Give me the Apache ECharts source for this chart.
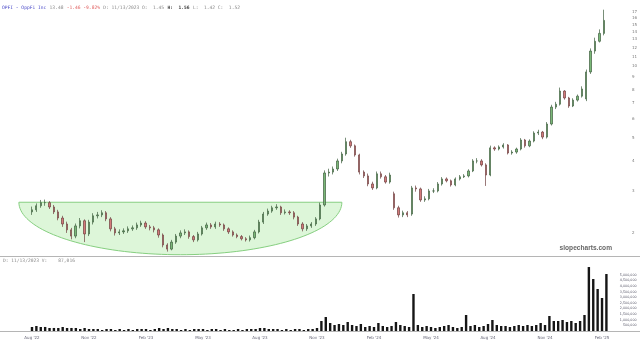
<!DOCTYPE html>
<html><head><meta charset="utf-8">
<script src="https://cdn.jsdelivr.net/npm/echarts@6/dist/echarts.min.js"></script>
<style>html,body{margin:0;padding:0;background:#fff}#c{width:640px;height:344px}</style>
</head><body><div id="c"></div>
<script>
const tickLabels = ["Aug '22","Nov '22","Feb '23","May '23","Aug '23","Nov '23","Feb '24","May '24","Aug '24","Nov '24","Feb '25"];
const priceTicks = [2,3,4,5,6,7,8,9,10,11,12,13,14,15,16,17];
const volumeTicks = [500000,1000000,1500000,2000000,2500000,3000000,3500000,4000000,4500000,5000000];

const opens = [2.45,2.50,2.60,2.68,2.68,2.57,2.45,2.31,2.18,2.06,
1.94,2.14,2.25,1.98,2.22,2.36,2.38,2.43,2.29,2.08,
2.00,2.02,2.04,2.08,2.10,2.16,2.20,2.12,2.10,2.06,
1.96,1.78,1.71,1.83,1.94,2.00,2.02,1.93,1.87,1.98,
2.10,2.16,2.12,2.18,2.16,2.08,2.02,1.96,1.93,1.89,
1.87,1.91,2.02,2.22,2.40,2.47,2.55,2.57,2.43,2.45,
2.43,2.33,2.18,2.08,2.14,2.18,2.29,2.62,3.57,3.60,
3.71,4.01,4.29,4.83,4.64,4.25,3.60,3.47,3.21,3.09,
3.54,3.44,3.27,2.92,2.55,2.38,2.43,2.40,3.09,3.06,
2.75,2.78,3.00,3.00,3.21,3.37,3.31,3.18,3.37,3.44,
3.47,3.64,4.01,4.01,3.86,3.50,4.55,4.50,4.59,4.68,
4.33,4.37,4.50,4.91,4.64,4.86,5.25,5.30,5.05,5.73,
6.75,6.94,7.88,7.37,6.82,7.22,7.50,7.30,9.48,11.6,
12.75,13.76];
const closes = [2.50,2.60,2.68,2.68,2.57,2.45,2.31,2.18,2.06,1.94,
2.14,2.25,1.98,2.22,2.36,2.38,2.43,2.29,2.08,2.00,
2.02,2.04,2.08,2.10,2.16,2.20,2.12,2.10,2.06,1.96,
1.78,1.71,1.83,1.94,2.00,2.02,1.93,1.87,1.98,2.10,
2.16,2.12,2.18,2.16,2.08,2.02,1.96,1.93,1.89,1.87,
1.91,2.02,2.22,2.40,2.47,2.55,2.57,2.43,2.45,2.43,
2.33,2.18,2.08,2.14,2.18,2.29,2.62,3.57,3.60,3.71,
4.01,4.29,4.83,4.64,4.25,3.60,3.47,3.21,3.09,3.54,
3.44,3.27,3.50,2.55,2.38,2.43,2.38,3.09,3.06,2.75,
2.78,3.00,3.00,3.21,3.37,3.31,3.18,3.37,3.44,3.47,
3.64,4.01,4.01,3.86,3.50,4.55,4.50,4.59,4.68,4.33,
4.37,4.50,4.91,4.64,4.86,5.25,5.30,5.05,5.73,6.75,
6.94,7.88,7.37,6.82,7.22,7.50,8.04,9.48,11.6,12.75,
13.76,15.6];
const highs = [2.58,2.66,2.75,2.76,2.72,2.62,2.50,2.36,2.23,2.10,
2.19,2.31,2.28,2.27,2.42,2.45,2.49,2.47,2.33,2.12,
2.07,2.09,2.13,2.15,2.21,2.25,2.24,2.16,2.14,2.09,
1.99,1.81,1.87,1.98,2.05,2.07,2.05,1.96,2.02,2.14,
2.21,2.20,2.23,2.22,2.19,2.11,2.05,1.99,1.96,1.92,
1.95,2.06,2.27,2.45,2.53,2.60,2.64,2.60,2.51,2.49,
2.47,2.36,2.22,2.18,2.22,2.33,2.68,3.66,3.72,3.80,
4.10,4.38,5.02,4.92,4.70,4.30,3.66,3.55,3.28,3.62,
3.62,3.50,3.58,2.98,2.60,2.48,2.47,3.15,3.16,3.10,
2.85,3.06,3.08,3.27,3.43,3.42,3.35,3.42,3.50,3.53,
3.70,4.08,4.12,4.08,3.92,4.65,4.62,4.66,4.76,4.72,
4.45,4.56,5.00,4.96,4.94,5.34,5.42,5.36,5.84,6.90,
7.10,8.15,7.95,7.45,7.35,7.62,8.25,9.70,11.9,13.2,
14.3,17.3];
const lows = [2.38,2.45,2.55,2.60,2.52,2.40,2.26,2.12,2.00,1.88,
1.90,2.09,1.83,1.94,2.17,2.30,2.33,2.24,2.03,1.95,
1.96,1.98,2.00,2.04,2.06,2.12,2.08,2.05,2.01,1.91,
1.74,1.67,1.69,1.80,1.90,1.96,1.89,1.83,1.84,1.95,
2.06,2.08,2.08,2.12,2.04,1.98,1.93,1.90,1.86,1.84,
1.84,1.88,1.99,2.18,2.36,2.43,2.50,2.38,2.39,2.38,
2.28,2.14,2.03,2.04,2.10,2.14,2.26,2.58,3.45,3.52,
3.64,3.92,4.22,4.55,4.18,3.52,3.40,3.14,3.03,3.05,
3.38,3.22,3.22,2.50,2.32,2.33,2.33,2.36,2.98,2.70,
2.70,2.74,2.94,2.96,3.16,3.26,3.13,3.14,3.32,3.40,
3.42,3.60,3.92,3.80,3.15,3.46,4.42,4.44,4.52,4.27,
4.26,4.30,4.44,4.56,4.58,4.80,5.15,4.95,4.98,5.65,
6.62,6.85,7.25,6.70,6.75,7.12,7.40,7.15,9.30,11.3,
12.6,13.5];
const volumes = [356000,445000,356000,360000,267000,270000,265000,356000,267000,270000,268000,178000,267000,
178000,180000,178000,89000,178000,180000,89000,178000,89000,178000,89000,178000,180000,178000,89000,178000,267000,178000,
267000,178000,178000,89000,178000,89000,178000,180000,178000,89000,178000,178000,89000,178000,89000,89000,178000,89000,178000,178000,
178000,267000,267000,178000,178000,180000,89000,178000,89000,178000,178000,89000,178000,180000,267000,
890000,1246000,712000,534000,623000,534000,801000,534000,445000,623000,356000,445000,356000,712000,445000,356000,445000,
801000,534000,445000,356000,3293000,534000,356000,445000,356000,267000,356000,445000,534000,356000,267000,356000,1424000,
445000,534000,356000,445000,623000,979000,534000,445000,445000,356000,445000,534000,445000,534000,445000,534000,712000,534000,
1335000,890000,890000,979000,801000,890000,712000,890000,1424000,5696000,4628000,3738000,2937000,5073000];

const cupFrom = -3, cupTo = 71, cupTop = 2.69, cupBottom = 1.62;

const weeks = closes.map((_, i) => i);
const candles = closes.map((c, i) => [opens[i], c, lows[i], highs[i]]);

const chart = echarts.init(document.getElementById('c'), null, {renderer: 'canvas'});
const L = 29.8, R = 31.4;
chart.setOption({
  animation: false,
  backgroundColor: '#fff',
  grid: [
    {left: L, right: R, top: 0, height: 256},
    {left: L, right: R, top: 258, height: 73}
  ],
  xAxis: [
    {type: 'category', data: weeks, gridIndex: 0, boundaryGap: true,
     axisLine: {show: false}, axisTick: {show: false}, axisLabel: {show: false}, splitLine: {show: false}},
    {type: 'category', data: weeks, gridIndex: 1, boundaryGap: true,
     axisLine: {show: false}, axisTick: {show: false}, splitLine: {show: false},
     axisLabel: {interval: 12, fontSize: 4, color: '#667', margin: 5, fontFamily: 'DejaVu Sans',
       formatter: (v, idx) => tickLabels[Math.round(idx / 13)] || ''}}
  ],
  yAxis: [
    {type: 'log', gridIndex: 0, min: 1.6, max: 19, position: 'right',
     axisLine: {show: false}, axisTick: {show: false}, splitLine: {show: false},
     axisLabel: {customValues: priceTicks, fontSize: 4, color: '#777', align: 'left', margin: 26, fontFamily: 'DejaVu Sans'}},
    {type: 'value', gridIndex: 1, min: 0, max: 6500000, interval: 500000, position: 'right',
     axisLine: {show: false}, axisTick: {show: false}, splitLine: {show: false},
     axisLabel: {fontSize: 3.3, color: '#556', align: 'right', margin: 28, fontFamily: 'DejaVu Sans',
       formatter: v => volumeTicks.indexOf(v) >= 0 ? v.toLocaleString('en-US') : ''}}
  ],
  series: [
    {type: 'custom', xAxisIndex: 0, yAxisIndex: 0, clip: false, z: 1, silent: true,
     data: [[0, 2]],
     renderItem: (params, api) => {
       const pL = api.coord([cupFrom, cupTop]);
       const pR = api.coord([cupTo, cupTop]);
       const pB = api.coord([cupFrom, cupBottom]);
       const cx = (pL[0] + pR[0]) / 2, rx = (pR[0] - pL[0]) / 2, ry = pB[1] - pL[1];
       const pts = [];
       for (let k = 0; k <= 80; k++) {
         const t = Math.PI * k / 80;
         pts.push([cx + rx * Math.cos(t), pL[1] + ry * Math.sin(t)]);
       }
       return {type: 'polygon', shape: {points: pts},
         style: {fill: 'rgba(170,232,160,0.4)', stroke: '#86cf80', lineWidth: 1}};
     }},
    {type: 'candlestick', xAxisIndex: 0, yAxisIndex: 0, data: candles, z: 3, barWidth: 1.8,
     itemStyle: {color: '#7ab878', color0: '#d47a7a', borderColor: '#3f5f3f', borderColor0: '#6f3f3f', borderWidth: 0.7}},
    {type: 'bar', xAxisIndex: 1, yAxisIndex: 1, data: volumes, barWidth: 2.4,
     itemStyle: {color: '#151515'}}
  ],
  graphic: [
    {type: 'line', shape: {x1: 0, y1: 256.5, x2: 640, y2: 256.5}, style: {stroke: '#b5b5b5', lineWidth: 1}},
    {type: 'line', shape: {x1: 0, y1: 331.5, x2: 640, y2: 331.5}, style: {stroke: '#b5b5b5', lineWidth: 1}},
    {type: 'text', left: 2, top: 2, style: {
      text: '{a|OPFI - OppFi Inc} {b|13.48} {r|-1.46 -9.82%} {b|D: 11/13/2023 O:  1.45} {k|H:  1.56} {b|L:  1.42 C:  1.52}',
      rich: {
        a: {fontSize: 4.6, fontFamily: 'DejaVu Sans Mono', fill: '#4a4ac8'},
        b: {fontSize: 4.6, fontFamily: 'DejaVu Sans Mono', fill: '#8a8a8a'},
        r: {fontSize: 4.6, fontFamily: 'DejaVu Sans Mono', fill: '#e06060'},
        k: {fontSize: 4.6, fontFamily: 'DejaVu Sans Mono', fill: '#444', fontWeight: 'bold'}
      }}},
    {type: 'text', left: 3, top: 258, style: {text: 'D: 11/13/2023 V:    87,016', fontSize: 4.6, fontFamily: 'DejaVu Sans Mono', fill: '#8a8a8a'}},
    {type: 'text', right: 28, top: 245, style: {text: 'slopecharts.com', fontSize: 6.6, fontWeight: 'bold', fontFamily: 'Liberation Sans', fill: '#666'}}
  ]
});
</script>
</body></html>
